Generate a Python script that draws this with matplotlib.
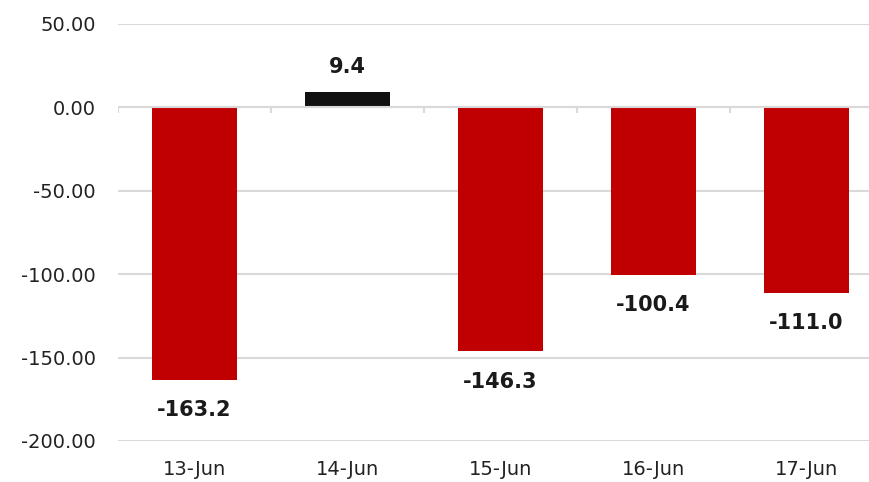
import matplotlib
matplotlib.use("Agg")
import matplotlib.pyplot as plt

categories = ["13-Jun", "14-Jun", "15-Jun", "16-Jun", "17-Jun"]
values = [-163.2, 9.4, -146.3, -100.4, -111.0]
yticks = [50, 0, -50, -100, -150, -200]

plt.rcParams['font.family'] = ['DejaVu Sans']

fig = plt.figure(figsize=(8.69, 4.82), dpi=100)
ax = fig.add_axes([118/869, 1-441/482, 1-118/869, (441-24)/482])

x = list(range(len(categories)))
colors = ["#C00000" if v < 0 else "#111111" for v in values]
ax.bar(x, values, width=0.56, color=colors, zorder=2)

for xi, v in zip(x, values):
    if v < 0:
        ax.annotate(f"{v:.1f}", (xi, v), xytext=(0, -22), textcoords="offset points",
                    ha="center", va="center", fontsize=15, fontweight="bold", color="#1a1a1a")
    else:
        ax.annotate(f"{v:.1f}", (xi, v), xytext=(0, 18), textcoords="offset points",
                    ha="center", va="center", fontsize=15, fontweight="bold", color="#1a1a1a")

ax.set_ylim(-200, 50)
ax.set_xlim(-0.5, 4.5 - 14/153)
ax.set_yticks(yticks)
ax.set_yticklabels([f"{t:.2f}" for t in yticks])
ax.set_xticks(x)
ax.set_xticklabels(categories)
ax.tick_params(axis='both', length=0, labelsize=14, colors="#222222")
ax.tick_params(axis='y', pad=16)
ax.tick_params(axis='x', pad=14)
for s in ax.spines.values():
    s.set_visible(False)
ax.grid(axis='y', color="#D9D9D9", linewidth=1.5, zorder=0)
ax.set_axisbelow(True)
ax.axhline(0, color="#D9D9D9", linewidth=1.5, zorder=3)
bounds = [i - 0.5 for i in range(len(categories) + 1)]
ax.vlines(bounds, -3.6, 0, color="#D9D9D9", linewidth=1.5, zorder=3, clip_on=True)

fig.savefig("out.png", dpi=100)
